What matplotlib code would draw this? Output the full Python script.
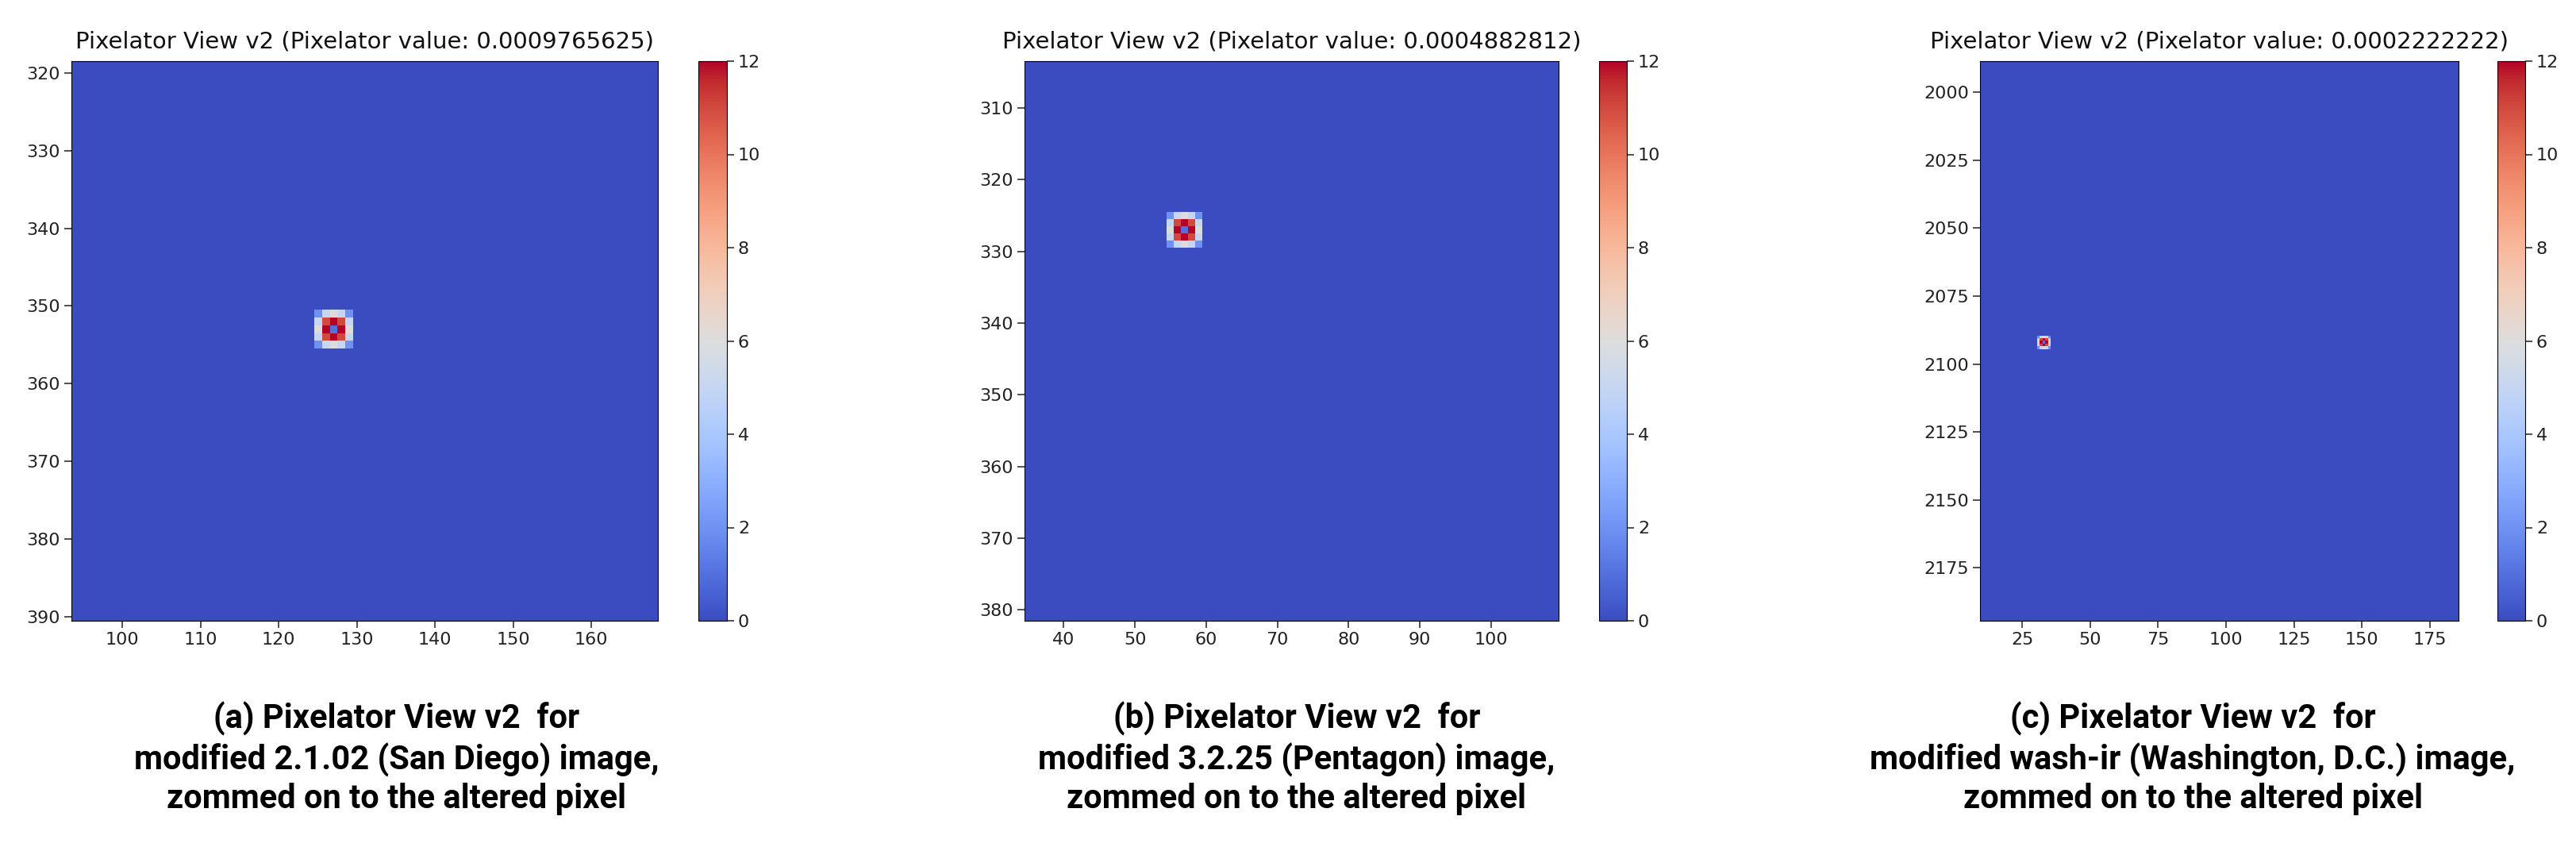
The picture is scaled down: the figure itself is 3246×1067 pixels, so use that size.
import numpy as np
import matplotlib.pyplot as plt
from matplotlib import font_manager

# response of the detector around the altered pixel (5x5, same for all images)
pattern = [[2, 5, 6, 5, 2],
           [5, 11, 12, 11, 5],
           [6, 12, 1, 12, 6],
           [5, 11, 12, 11, 5],
           [2, 5, 6, 5, 2]]

titles = ['Pixelator View v2 (Pixelator value: 0.0009765625)',
          'Pixelator View v2 (Pixelator value: 0.0004882812)',
          'Pixelator View v2 (Pixelator value: 0.0002222222)']
captions = ['(a) Pixelator View v2  for\nmodified 2.1.02 (San Diego) image,\nzommed on to the altered pixel',
            '(b) Pixelator View v2  for\nmodified 3.2.25 (Pentagon) image,\nzommed on to the altered pixel',
            '(c) Pixelator View v2  for\nmodified wash-ir (Washington, D.C.) image,\nzommed on to the altered pixel']
altered_px = [(127, 353), (57, 327), (33, 2092)]
x_ranges = [(93.5, 168.5), (34.5, 109.5), (9.5, 185.5)]
y_ranges = [(318.5, 390.5), (303.5, 381.5), (1988.5, 2194.5)]
x_ticks = [range(100, 161, 10), range(40, 101, 10), range(25, 176, 25)]
y_ticks = [range(320, 391, 10), range(310, 381, 10), range(2000, 2176, 25)]
cbar_ticks = [0, 2, 4, 6, 8, 10, 12]

# pixel boxes (left, right) for axes and colorbar, in the 3246x1067 picture
W, H = 3246, 1067
ax_px = [(90, 829), (1291, 1964), (2495, 3098)]
cb_px = [(880, 916), (2015, 2050), (3147, 3182)]
top_px, bot_px = 77, 782
cap_x = [500, 1634, 2763]

names = {f.name for f in font_manager.fontManager.ttflist}
cap_font = 'Roboto' if 'Roboto' in names else 'DejaVu Sans'

fig = plt.figure(figsize=(W / 100, H / 100), dpi=100)

for k in range(3):
    x0, x1 = x_ranges[k]
    y0, y1 = y_ranges[k]
    img = np.zeros((int(y1 - y0), int(x1 - x0)))
    c = int(altered_px[k][0] - x0 - 0.5)
    r = int(altered_px[k][1] - y0 - 0.5)
    img[r - 2:r + 3, c - 2:c + 3] = pattern

    l, rr = ax_px[k]
    ax = fig.add_axes([l / W, 1 - bot_px / H, (rr - l) / W, (bot_px - top_px) / H])
    im = ax.imshow(img, cmap='coolwarm', vmin=0, vmax=12, extent=(x0, x1, y1, y0),
                   interpolation='nearest', aspect='auto')
    ax.set_xticks(list(x_ticks[k]))
    ax.set_yticks(list(y_ticks[k]))
    ax.tick_params(labelsize=16, length=6.5, width=1.1, colors='#222222')
    ax.set_title(titles[k], fontsize=21, pad=12, color='#111111')

    cl, cr = cb_px[k]
    cax = fig.add_axes([cl / W, 1 - bot_px / H, (cr - cl) / W, (bot_px - top_px) / H])
    cb = fig.colorbar(im, cax=cax, ticks=cbar_ticks)
    cb.ax.tick_params(labelsize=16, length=6.5, width=1.1, colors='#222222')

    fig.text(cap_x[k] / W, 1 - 884 / H, captions[k], ha='center', va='top',
             fontsize=30, fontweight='bold', family=cap_font, linespacing=1.24)

fig.savefig('out.png', dpi=100, facecolor='white')
